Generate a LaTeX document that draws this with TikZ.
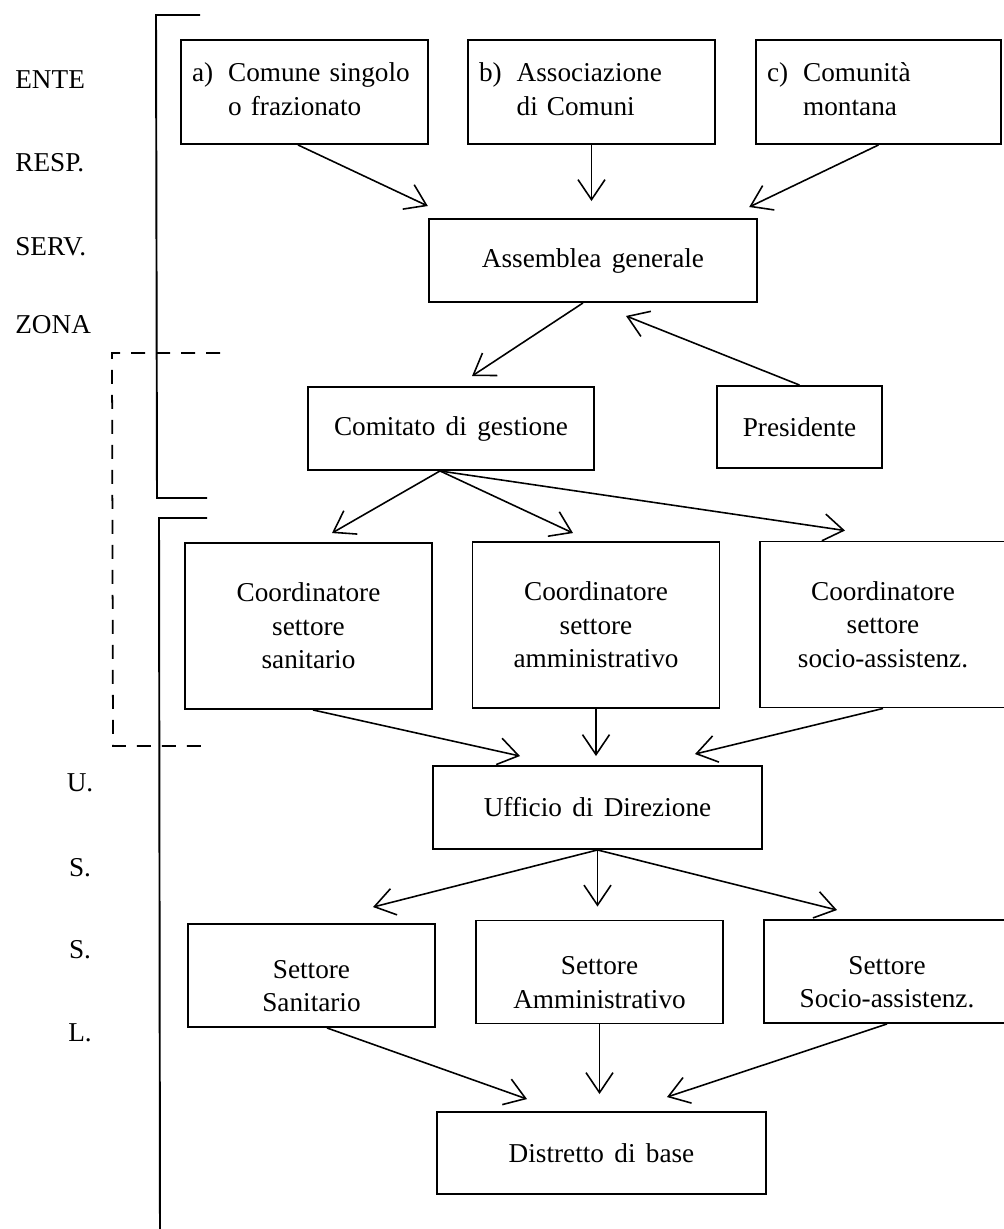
\documentclass[tikz,border=0pt]{standalone}
\usepackage{fontspec}
\setmainfont{Liberation Serif}
\usetikzlibrary{arrows.meta}

\newcommand\chartfont{\fontsize{15.5}{19}\selectfont\spaceskip 0.38em\relax}

\begin{document}
\begin{tikzpicture}[x=0.02cm, y=-0.02cm,
  font=\chartfont,
  box/.style={draw, line width=1.1pt, inner sep=0pt, align=center},
  ente/.style={box, align=left, text width=4.5cm, inner xsep=0.22cm, minimum height=2.08cm},
  wide/.style={box, minimum width=6.57cm, minimum height=1.66cm},
  coordbox/.style={box, minimum width=4.94cm, minimum height=3.32cm},
  settore/.style={box, minimum width=4.94cm, minimum height=2.06cm, execute at begin node={\rule{0pt}{1.45cm}}},
  arr/.style={-{Straight Barb[length=0.4cm, width=0.54cm]}, line width=0.9pt},
  bracket/.style={line width=1.1pt},
  zone/.style={line width=1pt, dash pattern=on 0.28cm off 0.22cm}
]
  \useasboundingbox (0,0) rectangle (1003,1229);

  % side labels
  \foreach \y/\lab in {80/ENTE, 163/RESP., 247/SERV., 325/ZONA}
    \node[anchor=west, inner sep=0pt] (side\y) at (15,\y) {\lab};
  \foreach \y/\lab in {783/U., 868/S., 950/S., 1033/L.}
    \node[inner sep=0pt] (side\y) at (80,\y) {\lab};

  % brackets
  \draw[bracket] (200,15) -- (156,15) -- (157,498) -- (207,498);
  \draw[bracket] (207,518) -- (159,518) -- (160,1240);
  \draw[zone] (220,353) -- (112,353) -- (113,746) -- (207,746);

  % boxes
  \node[ente] (enteA) at (304.5,92) {\begin{tabular}{@{}l@{\hspace{0.3cm}}l@{}}a) & Comune singolo\\ & o frazionato\end{tabular}};
  \node[ente] (enteB) at (591.5,92) {\begin{tabular}{@{}l@{\hspace{0.3cm}}l@{}}b) & Associazione\\ & di Comuni\end{tabular}};
  \node[ente, text width=4.46cm] (enteC) at (878.5,92) {\begin{tabular}{@{}l@{\hspace{0.3cm}}l@{}}c) & Comunità\\ & montana\end{tabular}};
  \node[wide] (assemblea) at (593,260.5) {Assemblea generale};
  \node[wide, minimum width=5.72cm] (comitato) at (451,428.5) {Comitato di gestione};
  \node[box, minimum width=3.3cm, minimum height=1.64cm] (presidente) at (799.5,427) {Presidente};
  \node[coordbox] (coSan) at (308.5,626) {Coordinatore\\settore\\sanitario};
  \node[coordbox] (coAmm) at (596,625) {Coordinatore\\settore\\amministrativo};
  \node[coordbox] (coSoc) at (883,624.5) {Coordinatore\\settore\\socio-assistenz.};
  \node[wide] (ufficio) at (597.5,807.5) {Ufficio di Direzione};
  \node[settore] (setSan) at (311.5,975.5) {Settore\\Sanitario};
  \node[settore] (setAmm) at (599.5,972) {Settore\\Amministrativo};
  \node[settore] (setSoc) at (887,971.5) {Settore\\Socio-assistenz.};
  \node[wide, minimum height=1.64cm] (distretto) at (601.5,1153) {Distretto di base};

  % arrows
  \draw[arr] ([xshift=-0.13cm]enteA.south) -- ([yshift=0.24cm]assemblea.north west);
  \draw[arr, shorten >=0.34cm] (enteB.south) -- (enteB.south |- assemblea.north);
  \draw[arr] (enteC.south) -- ([xshift=-0.18cm, yshift=0.22cm]assemblea.north east);
  \draw[arr] ([xshift=-0.2cm]assemblea.south) -- ([xshift=0.42cm, yshift=0.2cm]comitato.north);
  \draw[arr] (presidente.north) -- ([xshift=0.66cm, yshift=-0.26cm]assemblea.south);
  \foreach \t/\dx/\dy in {coSan/0.47/0.18, coAmm/-0.46/0.16, coSoc/-0.76/0.2}
    \draw[arr] ([xshift=-0.22cm]comitato.south) -- ([xshift=\dx cm, yshift=\dy cm]\t.north);
  \draw[arr] ([xshift=0.09cm]coSan.south) -- ([xshift=-1.55cm, yshift=0.18cm]ufficio.north);
  \draw[arr, shorten >=0.18cm] (coAmm.south) -- (coAmm.south |- ufficio.north);
  \draw[arr] (coSoc.south) -- ([xshift=1.95cm, yshift=0.22cm]ufficio.north);
  \draw[arr] (ufficio.south) -- ([xshift=1.23cm, yshift=0.32cm]setSan.north);
  \draw[arr, shorten >=0.26cm] (ufficio.south) -- (ufficio.south |- setAmm.north);
  \draw[arr] (ufficio.south) -- ([xshift=-1cm, yshift=0.18cm]setSoc.north);
  \draw[arr] ([xshift=0.31cm]setSan.south) -- ([xshift=-1.49cm, yshift=0.24cm]distretto.north);
  \draw[arr, shorten >=0.34cm] (setAmm.south) -- (setAmm.south |- distretto.north);
  \draw[arr] (setSoc.south) -- ([xshift=1.31cm, yshift=0.28cm]distretto.north);
\end{tikzpicture}
\end{document}
